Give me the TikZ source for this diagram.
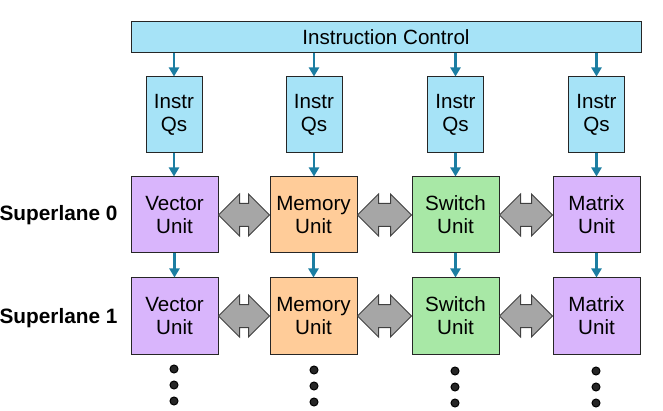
\documentclass[tikz,border=0pt]{standalone}
\usepackage{fontspec}
\setmainfont{Liberation Sans}
\usetikzlibrary{arrows.meta,calc}
\definecolor{qcyan}{HTML}{A6E3F7}
\definecolor{vpurple}{HTML}{D9B5FC}
\definecolor{morange}{HTML}{FFCC99}
\definecolor{sgreen}{HTML}{A8E8A6}
\definecolor{teal2}{HTML}{1C7EA2}
\definecolor{agray}{HTML}{A6A6A6}
\tikzset{
  box/.style={draw=black!85,line width=1pt,rectangle,inner sep=0pt,align=center,
    font=\fontsize{20.6}{23}\selectfont},
  qbox/.style={box,fill=qcyan,minimum width=56pt,minimum height=76pt},
  ubox/.style={box,minimum width=87pt,minimum height=76pt},
  flow/.style={draw=teal2,line width=2.2pt,-{Triangle[length=9pt,width=10pt]}},
  dbl/.style={draw=black!75,fill=agray,line width=1pt,line join=miter},
  lane/.style={anchor=east,font=\fontsize{20.8}{23}\selectfont\bfseries},
  dot/.style={circle,fill=black!85,draw=black,line width=1pt,inner sep=0pt,minimum size=8pt}
}
\newcommand\dblarr[2]{%
  \draw[dbl] (#1.east) -- ++(21pt,21pt) -- ++(0,-9.5pt)
    -- ($(#2.west)+(-21pt,11.5pt)$) -- ($(#2.west)+(-21pt,21pt)$) -- (#2.west)
    -- ($(#2.west)+(-21pt,-21pt)$) -- ($(#2.west)+(-21pt,-11.5pt)$)
    -- ($(#1.east)+(21pt,-11.5pt)$) -- ($(#1.east)+(21pt,-21pt)$) -- cycle;}
\begin{document}
\begin{tikzpicture}[x=1pt,y=-1pt]
\useasboundingbox (0,0) rectangle (663,411);
\node[box,fill=qcyan,minimum width=510pt,minimum height=31pt] (ic) at (386,37.5) {Instruction Control};
\foreach \n/\x in {1/174,2/314,3/455.5,4/596.5}{
  \node[qbox] (q\n) at (\x,115) {Instr\\Qs};
}
\node[ubox,fill=vpurple] (a0) at (174.5,215) {Vector\\Unit};
\node[ubox,fill=morange] (b0) at (313.5,215) {Memory\\Unit};
\node[ubox,fill=sgreen] (c0) at (455.5,215) {Switch\\Unit};
\node[ubox,fill=vpurple] (d0) at (596.5,215) {Matrix\\Unit};
\node[ubox,fill=vpurple] (a1) at (174.5,316) {Vector\\Unit};
\node[ubox,fill=morange] (b1) at (313.5,316) {Memory\\Unit};
\node[ubox,fill=sgreen] (c1) at (455.5,316) {Switch\\Unit};
\node[ubox,fill=vpurple] (d1) at (596.5,316) {Matrix\\Unit};
\node[lane] (l0) at (121,215) {Superlane 0};
\node[lane] (l1) at (121,318) {Superlane 1};
\foreach \n/\u in {1/a,2/b,3/c,4/d}{
  \draw[flow] (ic.south -| q\n.north) -- (q\n.north);
  \draw[flow] (q\n.south) -- (\u0.north -| q\n.south);
  \draw[flow] (\u0.south) -- (\u1.north);
}
\foreach \r in {0,1}{
  \dblarr{a\r}{b\r}
  \dblarr{b\r}{c\r}
  \dblarr{c\r}{d\r}
}
\foreach \u/\x/\y in {a/174/369,b/314/370,c/455/371,d/596/371}{
  \node[dot] (\u d1) at (\x,\y) {};
  \node[dot] (\u d2) at (\x,\y+16) {};
  \node[dot] (\u d3) at (\x,\y+32) {};
}
\end{tikzpicture}
\end{document}
